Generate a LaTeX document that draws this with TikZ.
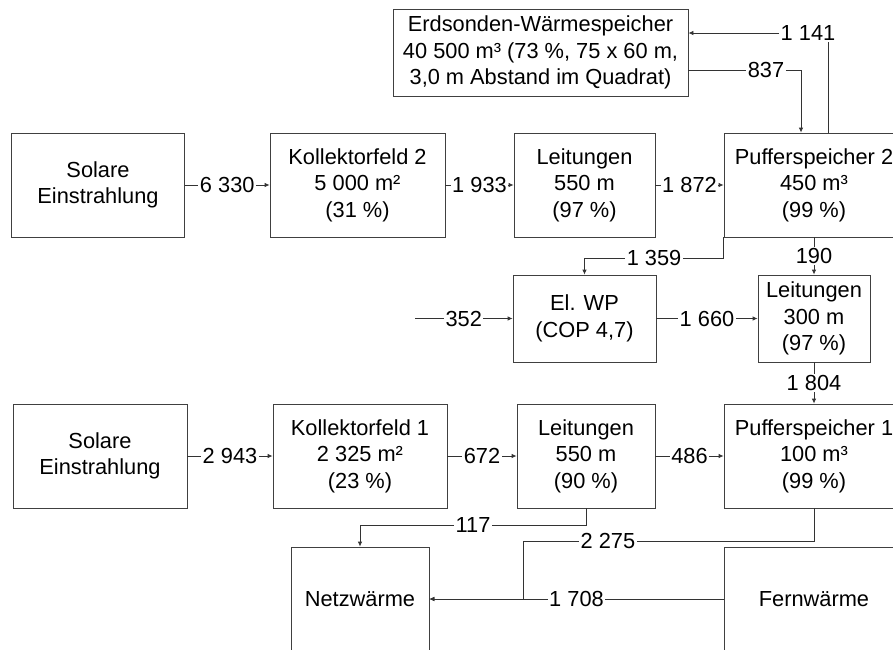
\documentclass[tikz,border=0pt]{standalone}
\usepackage{fontspec}
\setmainfont{Liberation Sans}
\usetikzlibrary{arrows.meta}

\tikzset{
  box/.style={draw=black!75, line width=0.8pt, align=center, inner sep=2pt,
    font=\fontsize{21.8}{26.5}\selectfont},
  lbl/.style={fill=white, inner sep=1.5pt, font=\fontsize{21.8}{26.5}\selectfont},
  link/.style={draw=black!80, line width=0.8pt},
  flow/.style={link, -{Latex[length=5pt,width=4.5pt]}},
}

\begin{document}
\begin{tikzpicture}[x=1pt,y=1pt,yscale=-1,xscale=1]
\useasboundingbox (0,0) rectangle (893,649);
\clip (0,0) rectangle (893,649);

% storage on top
\node[box, minimum width=295, minimum height=87] (erd) at (540.5,52.5)
  {Erdsonden-Wärmespeicher\\40 500 m³ (73 \%, 75 x 60 m,\\3,0 m Abstand im Quadrat)};

% field 2
\node[box, minimum width=173, minimum height=104] (sol2) at (98,185) {Solare\\Einstrahlung};
\node[box, minimum width=175, minimum height=104] (kol2) at (357.5,185) {Kollektorfeld 2\\5 000 m²\\(31 \%)};
\node[box, minimum width=141, minimum height=104] (lei2) at (584.5,185) {Leitungen\\550 m\\(97 \%)};
\node[box, minimum width=180, minimum height=104] (p2) at (814,185) {Pufferspeicher 2\\450 m³\\(99 \%)};

% heat pump
\node[box, minimum width=143, minimum height=87] (wp) at (584.5,318.5) {El. WP\\(COP 4,7)};
\node[box, minimum width=112, minimum height=87] (lei3) at (814,318.5) {Leitungen\\300 m\\(97 \%)};
\coordinate (wpin) at (415,318.5);

% field 1
\node[box, minimum width=174, minimum height=104] (sol1) at (100,456) {Solare\\Einstrahlung};
\node[box, minimum width=174, minimum height=104] (kol1) at (360,456) {Kollektorfeld 1\\2 325 m²\\(23 \%)};
\node[box, minimum width=138, minimum height=104] (lei1) at (586,456) {Leitungen\\550 m\\(90 \%)};
\node[box, minimum width=180, minimum height=104] (p1) at (814,456) {Pufferspeicher 1\\100 m³\\(99 \%)};

% consumers
\node[box, minimum width=138, minimum height=104] (netz) at (360,599) {Netzwärme};
\node[box, minimum width=180, minimum height=104] (fern) at (814,599) {Fernwärme};

% flows
\draw[flow] (sol2) -- node[lbl]{6 330} (kol2);
\draw[flow] (kol2) -- node[lbl]{1 933} (lei2);
\draw[flow] (lei2) -- node[lbl]{1 872} (p2);
\draw[flow] (p2) -- node[lbl]{190} (lei3);
\draw[flow] (p2.south west) -- ++(0,21) -| node[lbl,pos=0.25]{1 359} (wp.north);
\draw[flow] (wpin) -- node[lbl]{352} (wp);
\draw[flow] (wp) -- node[lbl]{1 660} (lei3);
\draw[flow] (lei3) -- node[lbl]{1 804} (p1);

\draw[flow] (sol1) -- node[lbl]{2 943} (kol1);
\draw[flow] (kol1) -- node[lbl]{672} (lei1);
\draw[flow] (lei1) -- node[lbl]{486} (p1);

\draw[flow] (lei1.south) -- ++(0,17) -| node[lbl,pos=0.25]{117} (netz.north);
\coordinate (j2275) at (523,541);
\draw[flow] (p1.south) |- node[lbl,pos=0.854]{2 275} (j2275) -- (j2275 |- netz.east) -- (netz.east);
\draw[flow] (fern) -- node[lbl]{1 708} (netz);

% ground storage links
\node[lbl] (q1141) at (808,33) {1 141};
\coordinate (r1141) at (828,0);
\draw[link] (p2.north -| r1141) -- (r1141 |- q1141.south);
\draw[flow] (q1141) -- (erd.east |- q1141);

\node[lbl] (q837) at (766,70) {837};
\coordinate (r837) at (801,70);
\draw[link] (erd.east |- q837) -- (q837);
\draw[flow] (q837) -| (p2.north -| r837);
\end{tikzpicture}
\end{document}
